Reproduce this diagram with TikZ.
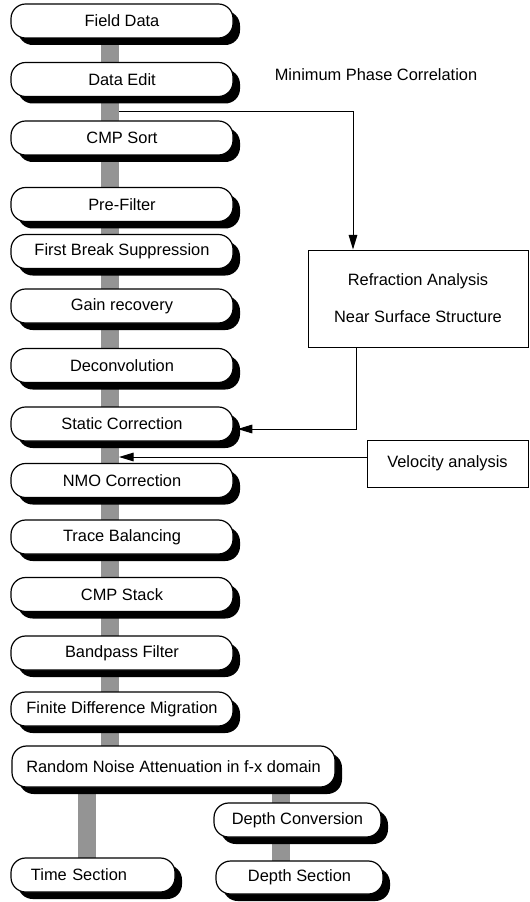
\documentclass[tikz,border=0pt]{standalone}
\usepackage{fontspec}
\setmainfont{Liberation Sans}
\usetikzlibrary{calc,shadows,arrows.meta}
\pgfdeclarelayer{background}
\pgfsetlayers{background,main}
\begin{document}
\begin{tikzpicture}[x=0.75pt,y=-0.75pt,
  every node/.style={font=\fontsize{12.3}{14.8}\selectfont},
  stage/.style={draw, line width=0.9pt, fill=white, rounded corners=11pt,
    minimum width=166.5pt, minimum height=25.5pt, inner sep=0pt,
    drop shadow={shadow xshift=5.25pt, shadow yshift=-5.25pt, opacity=1, fill=black}},
  panel/.style={draw, line width=0.75pt, fill=white, inner sep=0pt},
  feed/.style={line width=0.75pt, -{Triangle[length=11pt,width=6.5pt]}},
  bar/.style={fill=black!42}]
\useasboundingbox (0,0) rectangle (530,902);

% main processing chain
\node[stage] (fd)  at (122,21)    {Field Data};
\node[stage] (de)  at (122,79.5)  {Data Edit};
\node[stage] (cmp) at (122,138)   {CMP Sort};
\node[stage] (pf)  at (122,204.5) {Pre-Filter};
\node[stage] (fbs) at (122,251.5) {First Break Suppression};
\node[stage] (gr)  at (122,306)   {Gain recovery};
\node[stage] (dcn) at (122,365.5) {Deconvolution};
\node[stage] (sc)  at (122,424)   {Static Correction};
\node[stage] (nmo) at (122,480.5) {NMO Correction};
\node[stage] (tb)  at (122,537)   {Trace Balancing};
\node[stage] (st)  at (122,594.5) {CMP Stack};
\node[stage] (bp)  at (122,653)   {Bandpass Filter};
\node[stage] (fdm) at (122,709)   {Finite Difference Migration};
\node[stage, minimum width=242.25pt, minimum height=30.75pt] (rn) at (173.5,766.5)
  {Random Noise Attenuation in f-x domain};
\node[stage, minimum width=125.25pt] (dcv) at (297.5,820) {Depth Conversion};
\node[stage, minimum width=123pt, text width=93pt, align=left, inner xsep=15pt] (ts) at (93,875) {Time Section};
\node[stage, minimum width=125.25pt, minimum height=24.75pt] (ds) at (299.5,877.5) {Depth Section};

% side analyses
\node (mpc) at (376,75) {Minimum Phase Correlation};
\node[panel, minimum width=165pt, minimum height=72.75pt, align=center,
  font=\fontsize{12.3}{27.75}\selectfont] (refr) at (418,298.5)
  {Refraction Analysis\\Near Surface Structure};
\node[panel, minimum width=120.75pt, minimum height=35.25pt] (vel) at (447.5,463.5)
  {Velocity analysis};

% shaded links between stages
\begin{pgfonlayer}{background}
\foreach \a/\b in {fd/de,de/cmp,cmp/pf,pf/fbs,fbs/gr,gr/dcn,dcn/sc,sc/nmo,nmo/tb,tb/st,st/bp,bp/fdm,fdm/rn}
  \fill[bar] ($(\a.center)+(-21,0)$) rectangle ($(\b.center -| \a.center)+(-3,0)$);
\fill[bar] ($(ts.center)+(-15,0)$) rectangle ($(rn.center -| ts.center)+(3,0)$);
\fill[bar] ($(dcv.center)+(-25.5,0)$) rectangle ($(rn.center -| dcv.center)+(-7.5,0)$);
\fill[bar] ($(dcv.center)+(-25.5,0)$) rectangle ($(ds.center -| dcv.center)+(-7.5,0)$);
\end{pgfonlayer}

% feeds to and from the side analyses
\coordinate (tapA) at (119,112);
\coordinate (tapB) at (119,457);
\coordinate (scIn) at ($(sc.east)+(4,5)$);
\draw[feed] (tapA) -| ([xshift=-48.75pt]refr.north);
\draw[feed] ([xshift=-46.5pt]refr.south) |- (scIn);
\draw[feed] (vel.west |- tapB) -- (tapB);
\end{tikzpicture}
\end{document}
